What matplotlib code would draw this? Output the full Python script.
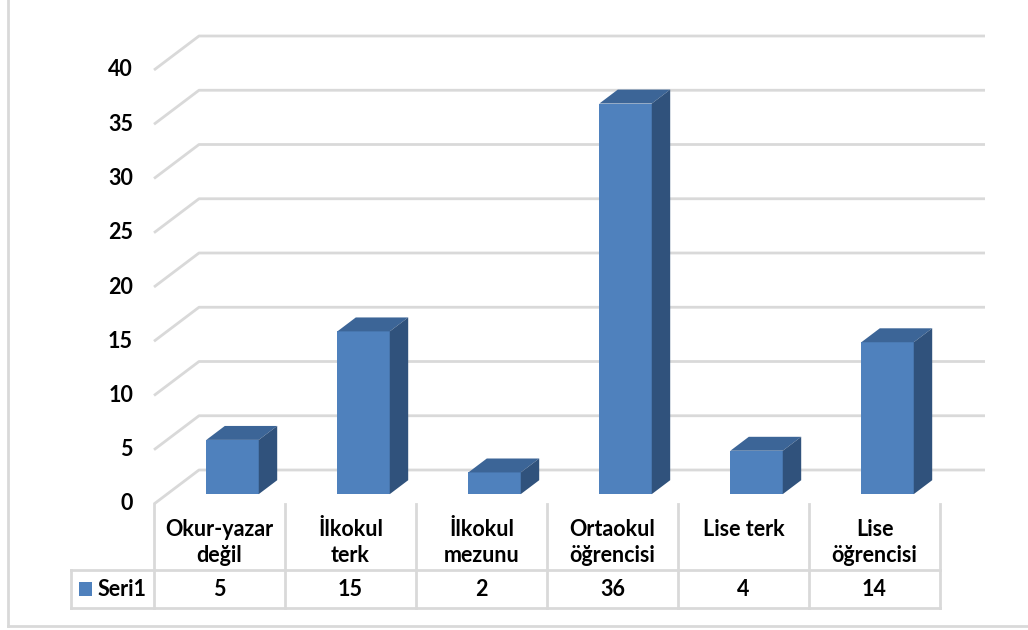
import matplotlib
matplotlib.use("Agg")
import matplotlib.pyplot as plt
from matplotlib.patches import Polygon, Rectangle

categories = ["Okur-yazar\ndeğil", "İlkokul\nterk", "İlkokul\nmezunu",
              "Ortaokul\nöğrencisi", "Lise terk\n ", "Lise\nöğrencisi"]
values = [5, 15, 2, 36, 4, 14]
series_name = "Seri1"
yticks = [0, 5, 10, 15, 20, 25, 30, 35, 40]

plt.rcParams['font.family'] = ['Lato', 'DejaVu Sans']
plt.rcParams['font.weight'] = 'bold'
FS = 15.5

W, H = 1028, 630
fig = plt.figure(figsize=(W / 100, H / 100), dpi=100)

# front plane of the floor/wall box, in pixels
x_left, x_right = 154, 940
y_zero, y_top = 504, 70
ax = fig.add_axes([x_left / W, 1 - y_zero / H, (x_right - x_left) / W, (y_zero - y_top) / H])
ax.set_xlim(-0.5, 5.5)
ax.set_ylim(0, 40)
ax.axis('off')

# depth of the 3d box in data units
col_px = (x_right - x_left) / 6
unit_px = (y_zero - y_top) / 40
ax_h = y_zero - y_top
Dx = 45 / col_px
Dy = 34 / unit_px

grid_c = '#d9d9d9'
for v in yticks:
    ax.plot([-0.5, -0.5 + Dx, 5.5 + Dx], [v, v + Dy, v + Dy], color=grid_c, lw=2,
            clip_on=False, zorder=1, solid_capstyle='butt')
    ax.text(-0.5 - 21 / col_px, v, str(v), ha='right', va='center',
            fontsize=FS, fontweight='bold')

front_c = '#4f81bd'
top_c = '#3c6597'
side_c = '#30527c'
bw = 0.4
f1 = 0.29   # front face depth
f2 = 0.70   # back face depth
for i, v in enumerate(values):
    x0 = i - bw / 2 + f1 * Dx
    x1 = i + bw / 2 + f1 * Dx
    yb = f1 * Dy
    yt = v + f1 * Dy
    ddx = (f2 - f1) * Dx
    ddy = (f2 - f1) * Dy
    ax.add_patch(Polygon([(x0, yb), (x1, yb), (x1, yt), (x0, yt)], closed=True,
                         fc=front_c, ec='none', zorder=3, clip_on=False))
    ax.add_patch(Polygon([(x0, yt), (x1, yt), (x1 + ddx, yt + ddy), (x0 + ddx, yt + ddy)],
                         closed=True, fc=top_c, ec='none', zorder=3, clip_on=False))
    ax.add_patch(Polygon([(x1, yb), (x1 + ddx, yb + ddy), (x1 + ddx, yt + ddy), (x1, yt)],
                         closed=True, fc=side_c, ec='none', zorder=3, clip_on=False))

# data table below the plot
tbl_h = 104 / ax_h
head_h = 66 / ax_h
lab_w = 83 / col_px
trans = ax.get_xaxis_transform()
lc = '#d9d9d9'
kw = dict(color=lc, lw=2, transform=trans, clip_on=False, zorder=2)
for k in range(7):
    ax.plot([k - 0.5, k - 0.5], [0, -tbl_h], **kw)
ax.plot([-0.5 - lab_w, -0.5 - lab_w], [-head_h, -tbl_h], **kw)
ax.plot([-0.5 - lab_w, 5.5], [-head_h, -head_h], **kw)
ax.plot([-0.5 - lab_w, 5.5], [-tbl_h, -tbl_h], **kw)

row_y = -(head_h + tbl_h) / 2
for i, (c, v) in enumerate(zip(categories, values)):
    ax.text(i, -15 / ax_h, c, transform=trans, ha='center', va='top',
            fontsize=FS, fontweight='bold', linespacing=1.3)
    ax.text(i, row_y, str(v), transform=trans, ha='center', va='center',
            fontsize=FS, fontweight='bold')
ax.add_patch(Rectangle((-0.5 - lab_w + 8 / col_px, row_y - 7 / ax_h),
                       13 / col_px, 14 / ax_h, transform=trans, fc=front_c, ec='none',
                       clip_on=False))
ax.text(-0.5 - 7 / col_px, row_y, series_name, transform=trans,
        ha='right', va='center', fontsize=FS, fontweight='bold')

# chart frame
fig.add_artist(plt.Line2D([8 / W, 8 / W], [1, 1 - 626 / H], color='#d9d9d9', lw=2))
fig.add_artist(plt.Line2D([8 / W, 1], [1 - 626 / H, 1 - 626 / H], color='#d9d9d9', lw=2))

fig.savefig('out.png', dpi=100)
